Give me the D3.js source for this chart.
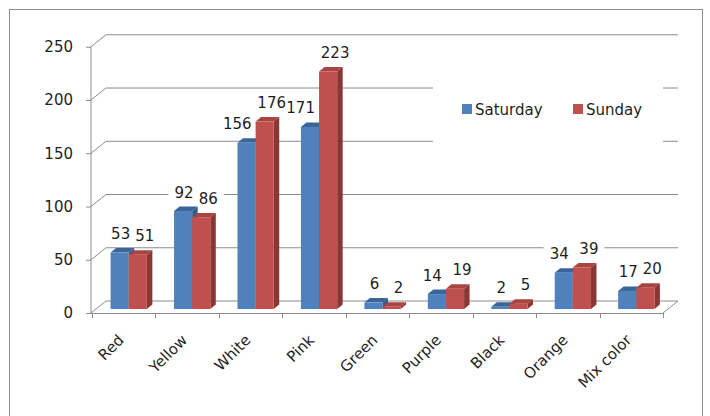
<!DOCTYPE html>
<html lang="en">
<head>
<meta charset="UTF-8">
<title>Flowers sold</title>
<script src="https://cdn.jsdelivr.net/npm/d3@7"></script>
<style>
    body { margin: 0; background: #fff; }
    text { font-family: "DejaVu Sans", Verdana, sans-serif; fill: #1e1e1e; }
</style>
</head>
<body>
<div id="fig"></div>
<script>
// data
const categories = ["Red", "Yellow", "White", "Pink", "Green", "Purple", "Black", "Orange", "Mix color"]
const series = ["Saturday", "Sunday"]
const saturday = [53, 92, 156, 171, 6, 14, 2, 34, 17]
const sunday = [51, 86, 176, 223, 2, 19, 5, 39, 20]
const yTicks = [0, 50, 100, 150, 200, 250]

const colors = {
    Saturday: {front: "#4f81bd", top: "#3a659a", side: "#345a88"},
    Sunday: {front: "#c0504d", top: "#a94441", side: "#8a3734"}
}

const W = 710, H = 416
// depth of the floor / back wall, and where the bars sit inside it
const wall = {dx: 15, dy: -12}
const barShift = {dx: 5, dy: -4}
const barDepth = {dx: 5.5, dy: -4.5}

let svg = d3.select("#fig").append("svg")
    .attr("width", W).attr("height", H)

svg.append("rect")
    .attr("x", 9.5).attr("y", 9.5)
    .attr("width", 693).attr("height", 440)
    .attr("fill", "#fff").attr("stroke", "#8c8c8c")

const y = d3.scaleLinear().domain([0, 250]).range([313, 46.75])
const x = d3.scaleBand().domain(categories).range([92, 663])
const xs = d3.scaleBand().domain(series).range([0, x.bandwidth()]).paddingOuter(0.75)

const rows = categories.map((c, i) => ({cat: c, Saturday: saturday[i], Sunday: sunday[i]}))
const bars = []
rows.forEach(r => series.forEach(s => bars.push({cat: r.cat, s: s, v: r[s], other: r[s === "Saturday" ? "Sunday" : "Saturday"]})))

const x0 = x.range()[0], x1 = x.range()[1]
const grid = "#8c8c8c"

// back wall gridlines with the bit on the side wall
let g = svg.append("g")
g.selectAll(".grid").data(yTicks.filter(d => d > 0)).enter()
    .append("path")
    .attr("class", "grid")
    .attr("fill", "none").attr("stroke", grid)
    .attr("d", d => `M${x0 - 1},${y(d)} L${x0 - 1 + wall.dx},${y(d) + wall.dy} L${x1 + wall.dx},${y(d) + wall.dy}`)

// floor
g.append("path")
    .attr("fill", "none").attr("stroke", grid)
    .attr("d", `M${x0 - 1},${y(0)} L${x0 - 1 + wall.dx},${y(0) + wall.dy} L${x1 + wall.dx},${y(0) + wall.dy} L${x1},${y(0)}`)

// y axis
const yAxis = svg.append("g")
    .attr("transform", `translate(${x0 - 1},0)`)
    .call(d3.axisLeft(y).tickValues(yTicks).tickSize(5).tickPadding(13))
yAxis.selectAll("line, path").attr("stroke", grid)
yAxis.select(".domain").attr("d", `M0,${y(250)}V${y(0)}`)
yAxis.selectAll("text")
    .style("font-size", "15px")
    .style("font-family", '"DejaVu Sans", Verdana, sans-serif')
    .attr("fill", "#1e1e1e")

// x axis line and ticks at category borders
const borders = categories.map(c => x(c)).concat([x1])
svg.append("line")
    .attr("x1", x0 - 1).attr("x2", x1)
    .attr("y1", y(0) + 0.5).attr("y2", y(0) + 0.5)
    .attr("stroke", grid)
svg.selectAll(".xtick").data(borders).enter()
    .append("line")
    .attr("class", "xtick")
    .attr("x1", d => Math.round(d) + 0.5).attr("x2", d => Math.round(d) + 0.5)
    .attr("y1", y(0)).attr("y2", y(0) + 5)
    .attr("stroke", grid)

svg.selectAll(".xlab").data(categories).enter()
    .append("text")
    .attr("class", "xlab")
    .attr("text-anchor", "end")
    .attr("transform", d => `translate(${x(d) + x.bandwidth() / 2 + 1},${y(0) + 28}) rotate(-45)`)
    .style("font-size", "15px")
    .text(d => d)

// value labels (white box behind, hides the gridlines)
const barLeft = d => x(d.cat) + xs(d.s) + barShift.dx
const barTop = d => y(d.v) + barShift.dy
const labW = d => String(d.v).length * 9.6
const labY = d => barTop(d) - 19
const labX = d => {
    let cx = barLeft(d) + xs.bandwidth() / 2 + (d.s === "Saturday" ? 1 : 7)
    // saturday label would sit on the taller sunday bar: push it left
    if (d.s === "Saturday" && y(d.other) + barShift.dy + barDepth.dy < labY(d) + 10) {
        cx = barLeft(d) + xs.bandwidth() - 4 - labW(d) / 2
    }
    return cx
}

let labs = svg.append("g")
labs.selectAll("rect").data(bars).enter()
    .append("rect")
    .attr("x", d => labX(d) - labW(d) / 2 - 6)
    .attr("width", d => labW(d) + 12)
    .attr("y", d => labY(d) - 10)
    .attr("height", 20)
    .attr("fill", "#fff")
labs.selectAll("text").data(bars).enter()
    .append("text")
    .attr("x", labX)
    .attr("y", d => labY(d) + 5.5)
    .attr("text-anchor", "middle")
    .style("font-size", "15px")
    .text(d => d.v)

// 3d bars: front, top, side
let bg = svg.append("g")
bars.forEach(d => {
    const xl = barLeft(d), xr = xl + xs.bandwidth()
    const yt = barTop(d), yb = y(0) + barShift.dy
    const c = colors[d.s]
    bg.append("polygon")
        .attr("points", [[xl, yt], [xr, yt], [xr + barDepth.dx, yt + barDepth.dy], [xl + barDepth.dx, yt + barDepth.dy]].join(" "))
        .attr("fill", c.top)
    bg.append("polygon")
        .attr("points", [[xr, yt], [xr + barDepth.dx, yt + barDepth.dy], [xr + barDepth.dx, yb + barDepth.dy], [xr, yb]].join(" "))
        .attr("fill", c.side)
    bg.append("rect")
        .attr("x", xl).attr("y", yt)
        .attr("width", xs.bandwidth()).attr("height", yb - yt)
        .attr("fill", c.front)
})

// legend
let leg = svg.append("g")
leg.append("rect")
    .attr("x", 433).attr("y", 70)
    .attr("width", 230).attr("height", 82)
    .attr("fill", "#fff")
const legX = [462, 573]
series.forEach((s, i) => {
    leg.append("rect")
        .attr("x", legX[i]).attr("y", 104)
        .attr("width", 10).attr("height", 10)
        .attr("fill", colors[s].front)
    leg.append("text")
        .attr("x", legX[i] + 13).attr("y", 114.5)
        .style("font-size", "15px")
        .text(s)
})
</script>
</body>
</html>
